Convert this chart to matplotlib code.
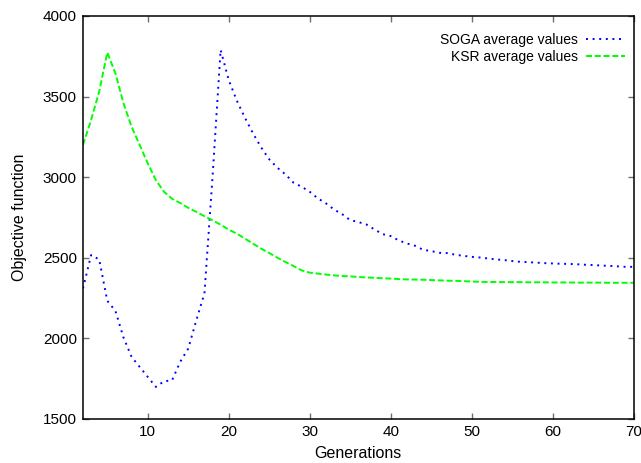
import matplotlib
matplotlib.use('Agg')
import matplotlib.pyplot as plt

GENERATIONS = list(range(2, 71))

SOGA = [2310, 2517, 2490, 2233, 2171, 2006, 1885, 1823, 1761, 1699,
        1734, 1740, 1854, 1937, 2113, 2279, 3000, 3790, 3603, 3475,
        3369, 3272, 3185, 3111, 3059, 3018, 2966, 2941, 2910, 2869,
        2838, 2800, 2771, 2734, 2722, 2707, 2676, 2647, 2635, 2608,
        2589, 2575, 2550, 2542, 2531, 2529, 2519, 2512, 2506, 2502,
        2496, 2490, 2486, 2480, 2475, 2473, 2470, 2467, 2465, 2463,
        2462, 2460, 2457, 2455, 2452, 2450, 2447, 2444, 2444]

KSR = [3200, 3355, 3531, 3774, 3645, 3459, 3313, 3200, 3086, 2982,
       2910, 2866, 2840, 2810, 2785, 2758, 2733, 2705, 2675, 2650,
       2619, 2588, 2557, 2530, 2501, 2474, 2449, 2422, 2408, 2402,
       2396, 2391, 2387, 2385, 2381, 2378, 2376, 2373, 2371, 2368,
       2366, 2365, 2364, 2362, 2360, 2358, 2357, 2355, 2353, 2351,
       2350, 2350, 2349, 2349, 2349, 2348, 2348, 2348, 2347, 2347,
       2347, 2346, 2346, 2346, 2346, 2345, 2345, 2345, 2345]

XTICKS = [10, 20, 30, 40, 50, 60, 70]
YTICKS = [1500, 2000, 2500, 3000, 3500, 4000]

plt.rcParams['font.family'] = ['Liberation Sans', 'DejaVu Sans']

fig = plt.figure(figsize=(6.41, 4.63), dpi=100)
ax = fig.add_axes([83 / 641, 1 - 419 / 463, 550.5 / 641, 403 / 463])

ax.plot(GENERATIONS, SOGA, color='#0000ff', linewidth=1.4,
        linestyle=(0, (1, 2.4)), dash_capstyle='butt',
        label='SOGA average values')
ax.plot(GENERATIONS, KSR, color='#00ff00', linewidth=1.4,
        linestyle=(0, (3.1, 1.4)), dash_capstyle='butt',
        label='KSR average values')

ax.set_xlim(2, 70)
ax.set_ylim(1500, 4000)
ax.set_xticks(XTICKS)
ax.set_yticks(YTICKS)
ax.tick_params(direction='in', length=4, width=1.0, color='#707070',
               top=True, right=True, labelsize=11, pad=4.5)
for s in ax.spines.values():
    s.set_linewidth(1.1)

ax.set_xlabel('Generations', fontsize=11.5, labelpad=5)
ax.set_ylabel('Objective function', fontsize=11.5, labelpad=11.5)

# legend sits just inside the top right corner, text right-aligned
ax.legend(loc='upper right', frameon=False, markerfirst=False,
          fontsize=10, handlelength=2.8, handletextpad=0.6,
          labelspacing=0.25, borderaxespad=0,
          bbox_to_anchor=(1 - 3 / 550.5, 1 - 11 / 403))

fig.savefig('out.png', dpi=100)
